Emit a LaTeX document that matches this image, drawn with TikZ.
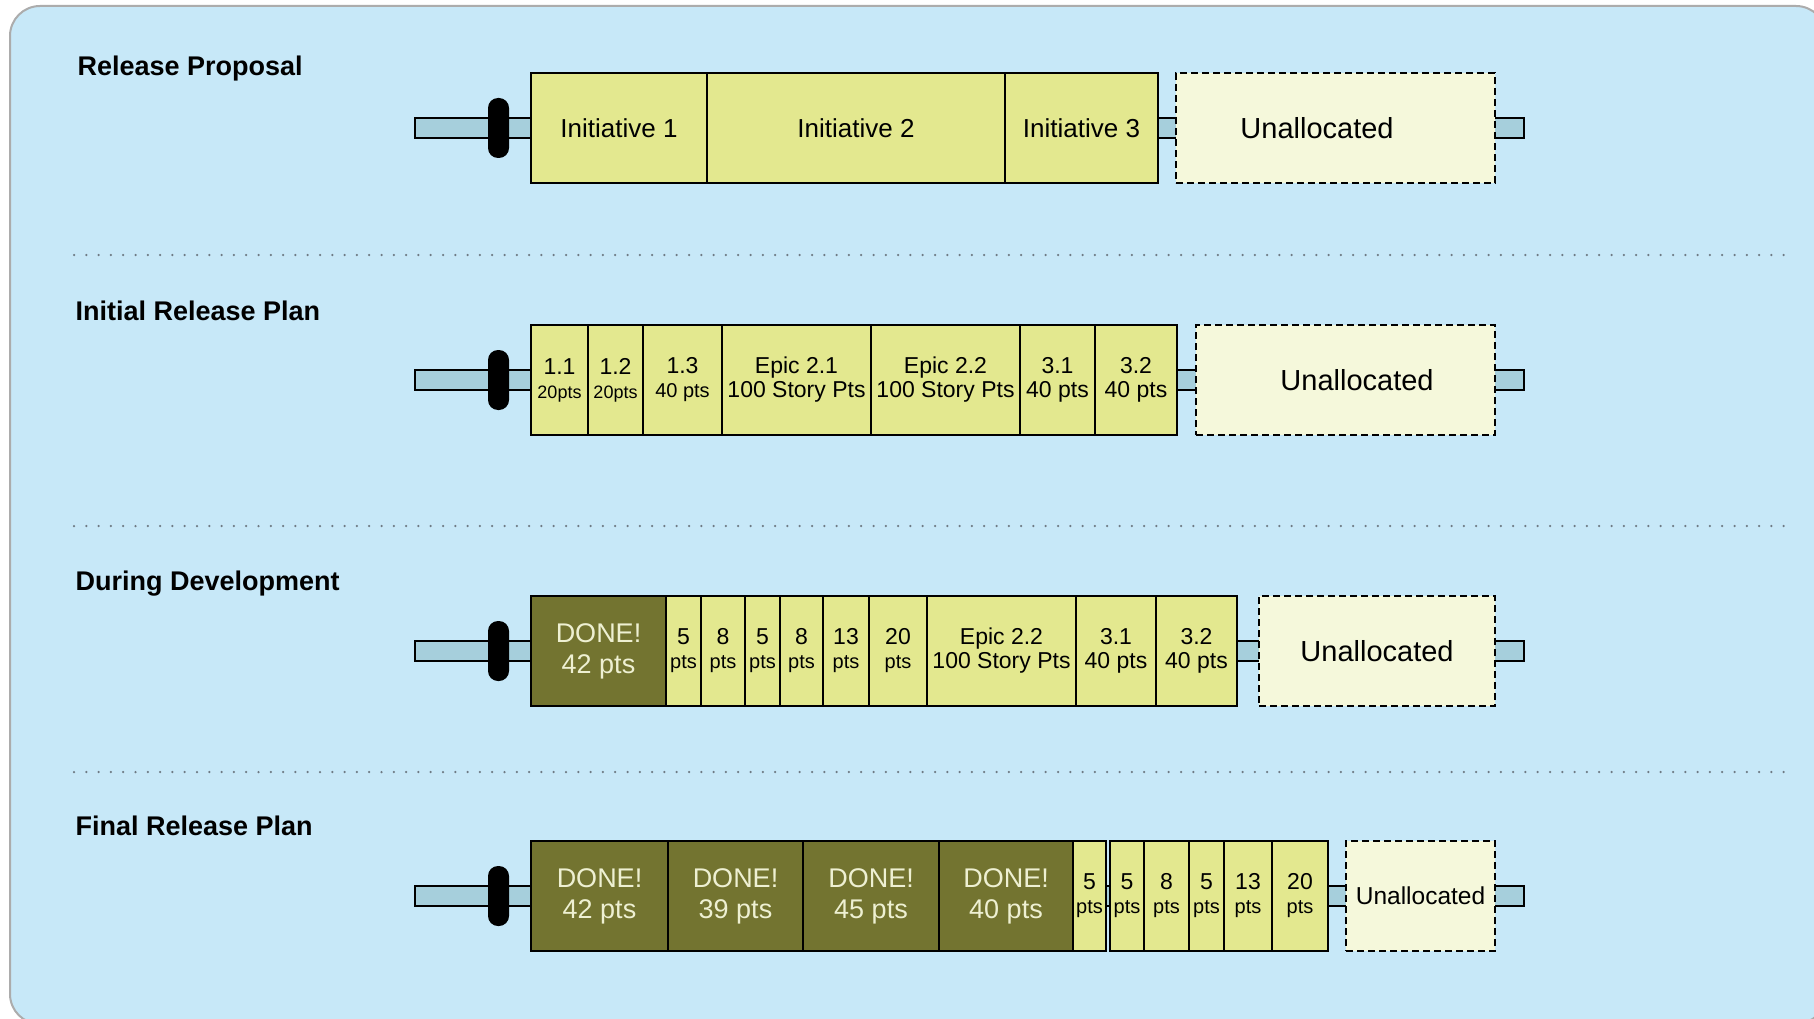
\documentclass[tikz,border=0pt]{standalone}
\usepackage{fontspec}
\setmainfont{Liberation Sans}
\usetikzlibrary{positioning}
\definecolor{panel}{RGB}{199,232,248}
\definecolor{pipeblue}{RGB}{166,207,220}
\definecolor{epicfill}{RGB}{227,232,143}
\definecolor{donefill}{RGB}{115,116,48}
\definecolor{donetext}{RGB}{238,240,210}
\definecolor{freefill}{RGB}{245,248,219}
\definecolor{dotgray}{RGB}{110,122,132}
\newcommand{\fsz}[1]{\fontsize{#1}{#1}\selectfont}

\begin{document}
\begin{tikzpicture}[x=1pt, y=-1pt,
      box/.style={draw, line width=2pt, fill=epicfill, minimum height=110pt,
        inner sep=1pt, outer sep=0pt, align=center, font=\fontsize{23}{24}\selectfont},
      done/.style={box, fill=donefill, text=donetext, font=\fontsize{27}{31}\selectfont},
      free/.style={box, fill=freefill, solid, dash pattern=on 7pt off 4pt,
        font=\fontsize{29}{31}\selectfont},
      wd/.style={minimum width=#1pt},
      pipe/.style={draw, line width=2pt, fill=pipeblue, minimum height=20pt,
        minimum width=1109pt, inner sep=0pt, outer sep=0pt},
      handle/.style={fill=black, minimum width=21pt, minimum height=60pt,
        rounded corners=10pt, inner sep=0pt},
      phase/.style={anchor=base west, font=\bfseries\fontsize{27}{29}\selectfont},
      sep/.style={dotgray, line width=2.5pt, dash pattern=on 0pt off 12.3pt, line cap=round}]
  \useasboundingbox (0,0) rectangle (1814,1019);
  \clip (0,0) rectangle (1814,1019);
  \fill[white] (0,0) rectangle (1814,1019);
  \filldraw[fill=panel, draw=gray!65, line width=2pt, rounded corners=30pt]
    (10,6) rectangle (1826,1024);

  \draw[sep] (74,255) -- (1795,255);
  \draw[sep] (74,526) -- (1795,526);
  \draw[sep] (74,772) -- (1795,772);

  \node[phase] (tA) at (74,76) {Release Proposal};
  \node[pipe] (pipeA) at (969.5,128) {};
  \node[handle] (gripA) at (498.5,128) {};
  \node[box, wd=176, anchor=west, font=\fsz{26}] (ini1) at (531,128) {Initiative 1};
  \node[box, wd=298, right=0pt of ini1, font=\fsz{26}] (ini2) {Initiative 2};
  \node[box, wd=153, right=0pt of ini2, font=\fsz{26}] (ini3) {Initiative 3};
  \node[free, wd=319, anchor=east] (freeA) at (1495,128) {Unallocated\hspace*{37pt}};

  \node[phase] (tB) at (72,320) {Initial Release Plan};
  \node[pipe] (pipeB) at (969.5,380) {};
  \node[handle] (gripB) at (498.5,380) {};
  \node[box, wd=57, anchor=west] (b11) at (531,380) {1.1\\{\fsz{18}20pts}};
  \node[box, wd=55, right=0pt of b11] (b12) {1.2\\{\fsz{18}20pts}};
  \node[box, wd=79, right=0pt of b12] (b13) {1.3\\{\fsz{20}40 pts}};
  \node[box, wd=149, right=0pt of b13] (b21) {Epic 2.1\\100 Story Pts};
  \node[box, wd=149, right=0pt of b21] (b22) {Epic 2.2\\100 Story Pts};
  \node[box, wd=75, right=0pt of b22] (b31) {3.1\\40 pts};
  \node[box, wd=82, right=0pt of b31] (b32) {3.2\\40 pts};
  \node[free, wd=299, anchor=east] (freeB) at (1495,380) {\hspace*{23pt}Unallocated};

  \node[phase] (tC) at (72,590) {During Development};
  \node[pipe] (pipeC) at (969.5,651) {};
  \node[handle] (gripC) at (498.5,651) {};
  \node[done, wd=135, anchor=west] (c0) at (531,651) {DONE!\\42 pts};
  \node[box, wd=35, right=0pt of c0] (c1) {5\\{\fsz{20}pts}};
  \node[box, wd=44, right=0pt of c1] (c2) {8\\{\fsz{20}pts}};
  \node[box, wd=35, right=0pt of c2] (c3) {5\\{\fsz{20}pts}};
  \node[box, wd=43, right=0pt of c3] (c4) {8\\{\fsz{20}pts}};
  \node[box, wd=46, right=0pt of c4] (c5) {13\\{\fsz{20}pts}};
  \node[box, wd=58, right=0pt of c5] (c6) {20\\{\fsz{20}pts}};
  \node[box, wd=149, right=0pt of c6] (c22) {Epic 2.2\\100 Story Pts};
  \node[box, wd=80, right=0pt of c22] (c31) {3.1\\40 pts};
  \node[box, wd=81, right=0pt of c31] (c32) {3.2\\40 pts};
  \node[free, wd=236, anchor=east] (freeC) at (1495,651) {Unallocated};

  \node[phase] (tD) at (72,835) {Final Release Plan};
  \node[pipe] (pipeD) at (969.5,896) {};
  \node[handle] (gripD) at (498.5,896) {};
  \node[done, wd=137, anchor=west] (d1) at (531,896) {DONE!\\42 pts};
  \node[done, wd=135, right=0pt of d1] (d2) {DONE!\\39 pts};
  \node[done, wd=136, right=0pt of d2] (d3) {DONE!\\45 pts};
  \node[done, wd=134, right=0pt of d3] (d4) {DONE!\\40 pts};
  \node[box, wd=33, right=0pt of d4] (e1) {5\\{\fsz{20}pts}};
  \node[box, wd=34, right=4pt of e1] (e2) {5\\{\fsz{20}pts}};
  \node[box, wd=45, right=0pt of e2] (e3) {8\\{\fsz{20}pts}};
  \node[box, wd=35, right=0pt of e3] (e4) {5\\{\fsz{20}pts}};
  \node[box, wd=48, right=0pt of e4] (e5) {13\\{\fsz{20}pts}};
  \node[box, wd=56, right=0pt of e5] (e6) {20\\{\fsz{20}pts}};
  \node[free, wd=149, anchor=east, font=\fsz{24.5}] (freeD) at (1495,896) {Unallocated};
\end{tikzpicture}
\end{document}
